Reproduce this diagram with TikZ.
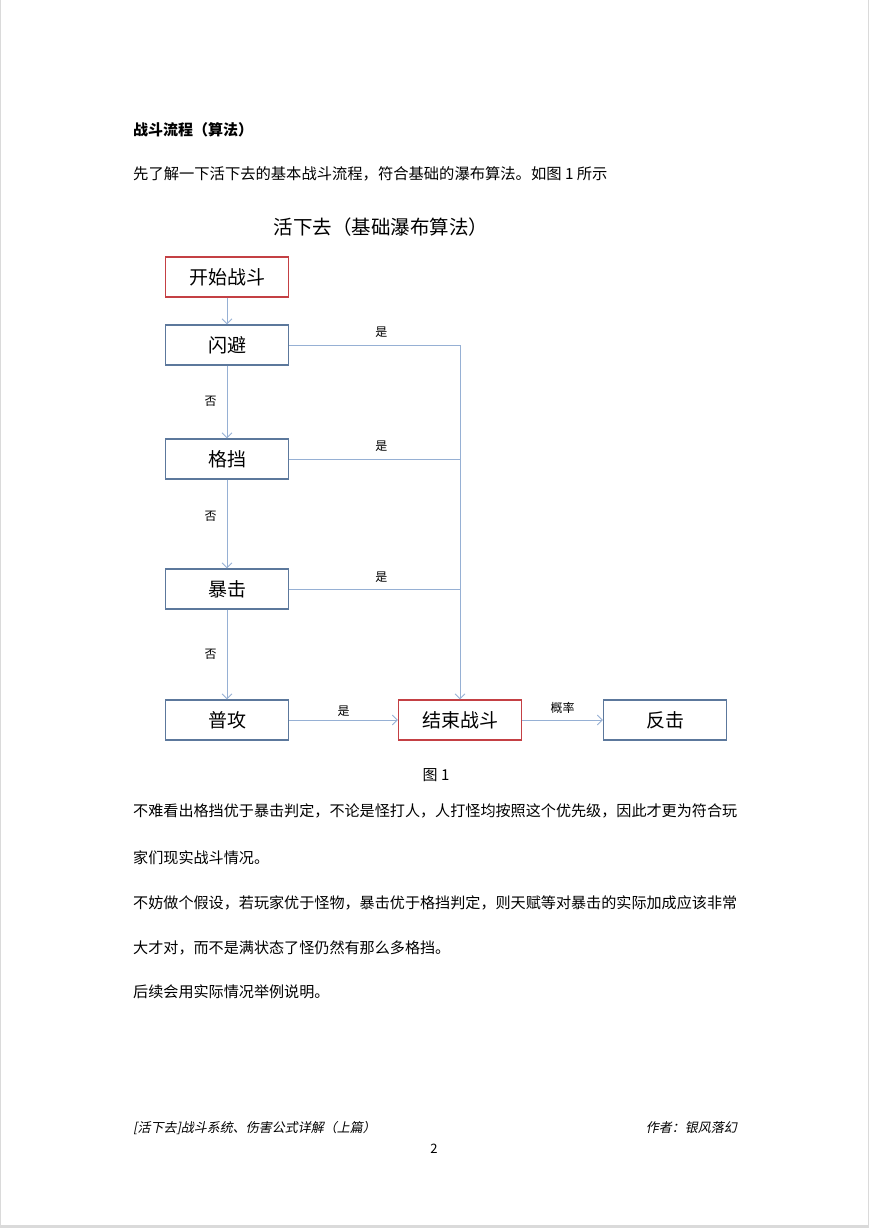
\documentclass[tikz,border=0pt]{standalone}
\usepackage{fontspec}
\setmainfont{Noto Sans CJK SC}
\newfontfamily\footfont[FakeSlant=0.2]{Noto Sans CJK SC}
\usetikzlibrary{arrows.meta}
\definecolor{boxred}{RGB}{196,64,68}
\definecolor{boxblue}{RGB}{92,120,156}
\definecolor{flowblue}{RGB}{150,176,212}
\definecolor{pagegray}{RGB}{218,218,218}
\tikzset{
  stepbox/.style={draw=boxblue,line width=1.1pt,minimum width=123pt,minimum height=40pt,inner sep=0pt,font=\fontsize{19}{19}\selectfont},
  termbox/.style={stepbox,draw=boxred},
  flow/.style={draw=flowblue,line width=0.9pt},
  flowarrow/.style={flow,-{Straight Barb[length=5pt,width=10pt]}},
  lbl/.style={inner sep=0pt,font=\fontsize{12}{12}\selectfont},
  bodytext/.style={anchor=west,inner sep=0pt,font=\fontsize{15.1}{15.1}\selectfont},
}
\begin{document}
\begin{tikzpicture}[x=1pt,y=-1pt]
\useasboundingbox (0,0) rectangle (869,1228);
\fill[pagegray] (0,0) rectangle (869,1228);
\fill[white] (1.3,0) rectangle (867.6,1225.3);
% page text
\node[bodytext,font=\fontsize{15}{15}\selectfont\bfseries] (heading) at (133,130) {战斗流程（算法）};
\node[bodytext,font=\fontsize{15.3}{15.3}\selectfont] (intro) at (133,174) {先了解一下活下去的基本战斗流程，符合基础的瀑布算法。如图 1 所示};
\node[inner sep=0pt,font=\fontsize{19.5}{19.5}\selectfont] (figtitle) at (381,227) {活下去（基础瀑布算法）};
% boxes
\node[termbox] (start) at (227,277) {开始战斗};
\node[stepbox] (dodge) at (227,345) {闪避};
\node[stepbox] (block) at (227,459) {格挡};
\node[stepbox] (crit) at (227,589) {暴击};
\node[stepbox] (attack) at (227,720) {普攻};
\node[termbox] (finish) at (460,720) {结束战斗};
\node[stepbox] (counter) at (665,720) {反击};
% connectors
\draw[flowarrow] (start) -- (dodge);
\draw[flowarrow] (dodge) -- node[lbl,left=10pt,pos=.49] {否} (block);
\draw[flowarrow] (block) -- node[lbl,left=10pt,pos=.41] {否} (crit);
\draw[flowarrow] (crit) -- node[lbl,left=10pt,pos=.5] {否} (attack);
\draw[flowarrow] (dodge.east) -- node[lbl,above=7pt,pos=.54] {是} (dodge.east -| finish.north) -- (finish.north);
\draw[flow] (block.east) -- node[lbl,above=7pt,pos=.54] {是} (block.east -| finish.north);
\draw[flow] (crit.east) -- node[lbl,above=6pt,pos=.54] {是} (crit.east -| finish.north);
\draw[flowarrow] (attack) -- node[lbl,above=3pt] {是} (finish);
\draw[flowarrow] (finish) -- node[lbl,above=6pt] {概率} (counter);
\node[inner sep=0pt,font=\fontsize{15}{15}\selectfont] (caption) at (436,775) {图 1};
% paragraph
\node[bodytext] (para1) at (133,811) {不难看出格挡优于暴击判定，不论是怪打人，人打怪均按照这个优先级，因此才更为符合玩};
\node[bodytext] (para2) at (133,858) {家们现实战斗情况。};
\node[bodytext] (para3) at (133,903) {不妨做个假设，若玩家优于怪物，暴击优于格挡判定，则天赋等对暴击的实际加成应该非常};
\node[bodytext] (para4) at (133,948) {大才对，而不是满状态了怪仍然有那么多格挡。};
\node[bodytext] (para5) at (133,992) {后续会用实际情况举例说明。};
% footer
\node[anchor=west,inner sep=0pt,font=\fontsize{13}{13}\footfont] (foot) at (133,1128) {[活下去]战斗系统、伤害公式详解（上篇）};
\node[anchor=east,inner sep=0pt,font=\fontsize{13}{13}\footfont] (author) at (737,1128) {作者：银风落幻};
\node[inner sep=0pt,font=\fontsize{13}{13}\selectfont] (pageno) at (434,1149) {2};
\end{tikzpicture}
\end{document}
